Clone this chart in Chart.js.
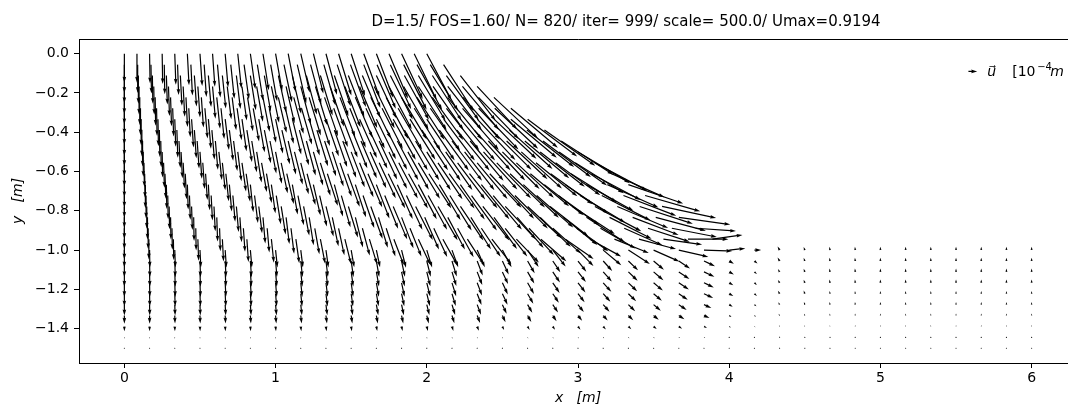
<!DOCTYPE html>
<html>
<head>
<meta charset="utf-8">
<script src="https://cdn.jsdelivr.net/npm/chart.js@4.4.1/dist/chart.umd.min.js"></script>
<style>
  html, body { margin: 0; padding: 0; background: #fff; overflow: hidden; }
</style>
</head>
<body>
<canvas id="chart0" width="1100" height="407"></canvas>
<script>
// ---- mesh: slope block (y = 0 .. -0.944), 25 nodes per row from x=0 to the slope face
var upperRowY = [0, -0.0556, -0.1111, -0.1667, -0.2222, -0.2778, -0.3333, -0.3889, -0.4444,
                 -0.5, -0.5556, -0.6111, -0.6667, -0.7222, -0.7778, -0.8333, -0.8889, -0.9444];
var upperRowFaceX = [2.0, 2.111, 2.222, 2.333, 2.444, 2.556, 2.667, 2.778, 2.889,
                     3.0, 3.111, 3.222, 3.333, 3.444, 3.556, 3.667, 3.778, 3.889];
var NODES_PER_UPPER_ROW = 25;

// ---- mesh: foundation block (y = -1 .. -1.5)
var lowerRowY = [-1.0, -1.0556, -1.1111, -1.1667, -1.2222, -1.2778, -1.3333, -1.3889, -1.4444, -1.5];
var lowerColX = [0, 0.1667, 0.3333, 0.5, 0.6667, 0.8333, 1, 1.1667, 1.3333, 1.5, 1.6667, 1.8333,
                 2, 2.1667, 2.3333, 2.5, 2.6667, 2.8333, 3, 3.1667, 3.3333, 3.5, 3.6667, 3.8333,
                 4, 4.1667, 4.3333, 4.5, 4.6667, 4.8333, 5, 5.1667, 5.3333, 5.5, 5.6667, 5.8333, 6];

// ---- displacement magnitude (1e-4 m) per node, slope block
var upperMag = [
  [.43,.43,.44,.45,.46,.47,.48,.49,.50,.52,.53,.55,.56,.58,.59,.61,.63,.65,.66,.68,.70,.72,.74,.76,.78],
  [.42,.42,.43,.44,.45,.46,.48,.49,.51,.52,.54,.55,.57,.59,.61,.63,.65,.67,.69,.71,.73,.75,.77,.80,.82],
  [.41,.42,.42,.43,.45,.46,.47,.49,.50,.52,.54,.56,.58,.60,.62,.64,.66,.68,.70,.73,.75,.78,.80,.82,.85],
  [.41,.42,.42,.44,.45,.46,.48,.49,.51,.53,.55,.56,.58,.60,.63,.65,.67,.69,.72,.74,.77,.79,.82,.84,.87],
  [.40,.41,.42,.43,.44,.45,.47,.49,.51,.52,.54,.56,.59,.61,.63,.65,.68,.70,.73,.75,.78,.81,.83,.86,.89],
  [.39,.40,.41,.42,.43,.45,.46,.48,.50,.52,.54,.56,.59,.61,.63,.66,.68,.71,.74,.77,.79,.82,.85,.88,.91],
  [.38,.39,.40,.41,.42,.44,.46,.48,.50,.52,.54,.56,.58,.61,.63,.66,.69,.71,.74,.77,.80,.83,.86,.89,.92],
  [.38,.39,.40,.41,.42,.44,.46,.48,.50,.52,.54,.56,.58,.61,.63,.66,.69,.71,.74,.77,.80,.83,.86,.89,.92],
  [.37,.38,.39,.40,.41,.43,.45,.47,.49,.51,.53,.55,.58,.60,.63,.66,.68,.71,.74,.77,.80,.83,.86,.89,.92],
  [.36,.37,.38,.39,.40,.42,.44,.46,.48,.50,.52,.54,.56,.59,.61,.64,.67,.69,.72,.75,.78,.81,.84,.87,.90],
  [.35,.36,.37,.38,.39,.41,.43,.44,.46,.48,.51,.53,.55,.58,.60,.62,.65,.68,.70,.73,.76,.79,.82,.85,.88],
  [.35,.36,.37,.38,.39,.41,.42,.44,.46,.48,.50,.52,.54,.57,.59,.61,.64,.66,.69,.72,.75,.77,.80,.83,.86],
  [.34,.35,.36,.37,.38,.40,.41,.43,.45,.47,.49,.51,.54,.56,.58,.61,.63,.66,.69,.72,.74,.77,.80,.83,.86],
  [.33,.34,.35,.36,.37,.39,.41,.43,.45,.47,.49,.51,.53,.56,.58,.61,.64,.66,.69,.72,.75,.78,.81,.84,.85],
  [.32,.33,.34,.35,.37,.38,.40,.42,.44,.46,.48,.51,.53,.56,.58,.61,.64,.67,.69,.72,.75,.78,.82,.83,.82],
  [.32,.33,.33,.35,.36,.37,.39,.40,.42,.44,.46,.47,.49,.52,.54,.56,.58,.60,.63,.65,.68,.70,.73,.77,.77],
  [.31,.31,.32,.33,.34,.35,.36,.38,.39,.41,.42,.44,.45,.47,.49,.51,.53,.54,.56,.58,.60,.62,.65,.68,.60],
  [.30,.30,.31,.32,.33,.34,.35,.36,.37,.38,.39,.41,.42,.44,.45,.47,.48,.50,.51,.53,.55,.57,.58,.60,.45]
];

// ---- displacement direction (deg, counter-clockwise from +x), slope block
var upperAng = [
  [-90,-90,-89,-89,-88,-87,-86,-86,-85,-84,-82,-81,-80,-79,-77,-76,-75,-73,-72,-70,-69,-67,-65,-64,-62],
  [-90,-90,-89,-89,-88,-87,-86,-85,-84,-82,-81,-80,-78,-77,-75,-74,-72,-70,-69,-67,-65,-63,-61,-59,-57],
  [-90,-90,-89,-88,-87,-86,-85,-84,-83,-81,-80,-78,-77,-75,-73,-71,-69,-67,-65,-63,-61,-59,-57,-54,-52],
  [-90,-90,-89,-88,-87,-86,-85,-83,-82,-80,-78,-77,-75,-73,-71,-69,-67,-64,-62,-60,-57,-55,-52,-50,-47],
  [-90,-90,-89,-88,-87,-86,-84,-83,-81,-79,-77,-75,-73,-71,-69,-67,-64,-62,-59,-57,-54,-51,-49,-46,-43],
  [-90,-90,-89,-88,-87,-85,-84,-82,-80,-79,-77,-74,-72,-70,-68,-65,-63,-60,-58,-55,-52,-49,-46,-43,-40],
  [-90,-90,-89,-88,-86,-85,-83,-82,-80,-78,-76,-74,-71,-69,-66,-64,-61,-58,-56,-53,-50,-47,-43,-40,-37],
  [-90,-90,-89,-88,-86,-85,-83,-81,-79,-77,-75,-73,-71,-68,-65,-63,-60,-57,-54,-51,-48,-45,-42,-38,-35],
  [-90,-90,-89,-87,-86,-85,-83,-81,-79,-77,-75,-72,-70,-67,-65,-62,-59,-56,-53,-50,-47,-43,-40,-37,-33],
  [-90,-90,-89,-87,-86,-84,-83,-81,-79,-76,-74,-72,-69,-66,-64,-61,-58,-55,-52,-48,-45,-42,-38,-35,-31],
  [-90,-89,-88,-87,-86,-84,-82,-80,-78,-76,-73,-71,-68,-65,-62,-59,-56,-53,-50,-46,-43,-39,-36,-32,-28],
  [-90,-89,-88,-87,-86,-84,-82,-80,-77,-75,-72,-70,-67,-64,-61,-57,-54,-51,-47,-44,-40,-36,-32,-28,-24],
  [-90,-90,-89,-88,-87,-85,-84,-82,-80,-77,-75,-72,-69,-66,-62,-59,-55,-51,-47,-43,-38,-34,-29,-24,-19],
  [-90,-90,-89,-88,-87,-85,-83,-81,-79,-77,-74,-71,-68,-65,-61,-58,-54,-50,-45,-41,-36,-31,-27,-21,-16],
  [-90,-90,-89,-88,-87,-85,-83,-81,-79,-76,-73,-70,-67,-63,-60,-56,-52,-47,-43,-38,-33,-28,-23,-18,-12],
  [-90,-90,-89,-89,-88,-86,-85,-83,-81,-78,-76,-73,-69,-66,-62,-58,-54,-49,-44,-39,-33,-27,-21,-15,-8],
  [-90,-90,-89,-89,-88,-86,-85,-83,-80,-78,-75,-72,-68,-65,-61,-56,-52,-47,-42,-36,-30,-24,-18,-11,-4],
  [-90,-90,-89,-88,-87,-86,-84,-82,-79,-76,-73,-69,-65,-61,-57,-52,-46,-41,-35,-29,-22,-15,-8,0,8]
];

// ---- foundation block magnitudes (1e-4 m), one row per lowerRowY
var lowerMag = [
  [.26,.26,.26,.26,.26,.26,.26,.26,.26,.26,.26,.27,.27,.27,.28,.29,.30,.31,.33,.35,.38,.42,.45,.42,.24,.10,.06,.05,.05,.05,.05,.05,.05,.05,.05,.05,.05],
  [.24,.24,.24,.24,.24,.24,.24,.24,.24,.24,.24,.24,.24,.24,.23,.22,.21,.20,.20,.20,.20,.20,.20,.18,.08,.06,.06,.05,.05,.05,.05,.05,.05,.05,.05,.05,.05],
  [.22,.22,.22,.22,.22,.22,.22,.22,.22,.22,.22,.22,.22,.22,.21,.20,.20,.19,.19,.19,.19,.19,.19,.17,.08,.05,.05,.05,.05,.05,.05,.05,.05,.05,.05,.05,.05],
  [.21,.21,.21,.21,.21,.21,.21,.21,.21,.21,.21,.21,.21,.21,.20,.19,.19,.18,.18,.18,.18,.18,.18,.16,.07,.05,.05,.05,.05,.05,.05,.05,.05,.05,.05,.05,.05],
  [.19,.19,.19,.19,.19,.19,.19,.19,.19,.19,.19,.19,.19,.19,.18,.18,.17,.16,.16,.16,.16,.16,.16,.15,.07,.05,.05,.05,.04,.04,.04,.04,.04,.04,.04,.04,.04],
  [.16,.16,.16,.16,.16,.16,.16,.16,.16,.16,.16,.16,.16,.16,.16,.15,.14,.14,.14,.14,.14,.14,.14,.12,.06,.04,.04,.04,.04,.04,.04,.04,.04,.04,.04,.04,.04],
  [.12,.12,.12,.12,.12,.12,.12,.12,.12,.12,.12,.12,.12,.12,.12,.11,.11,.10,.10,.10,.10,.10,.10,.09,.04,.03,.03,.03,.03,.03,.03,.03,.03,.03,.03,.03,.03],
  [.07,.07,.07,.07,.07,.07,.07,.07,.07,.07,.07,.07,.07,.07,.07,.06,.06,.06,.06,.06,.06,.06,.06,.05,.03,.02,.02,.02,.02,.02,.02,.02,.02,.02,.02,.02,.02],
  [.02,.02,.02,.02,.02,.02,.02,.02,.02,.02,.02,.02,.02,.02,.02,.02,.02,.02,.02,.02,.02,.02,.02,.02,.01,.01,.01,.01,.01,.01,.01,.01,.01,.01,.01,.01,.01],
  [0,0,0,0,0,0,0,0,0,0,0,0,0,0,0,0,0,0,0,0,0,0,0,0,0,0,0,0,0,0,0,0,0,0,0,0,0]
];
// directions (deg) along y = -1 and for the rows below it
var lowerAngTop = [-90,-89,-88,-87,-86,-85,-84,-83,-82,-80,-78,-76,-73,-70,-66,-62,-57,-52,-46,-40,-33,-24,-13,-2,6,0,
                   120,110,100,95,92,90,90,90,90,90,90];
var lowerAngBelow = [-90,-89,-88,-88,-87,-86,-85,-84,-83,-82,-80,-78,-76,-73,-69,-65,-60,-56,-52,-48,-44,-40,-34,-25,-30,-40,
                     120,110,100,95,92,90,90,90,90,90,90];

var xTickValues = [0, 1, 2, 3, 4, 5, 6];
var yTickValues = [0, -0.2, -0.4, -0.6, -0.8, -1.0, -1.2, -1.4];

var TITLE = 'D=1.5/ FOS=1.60/ N= 820/ iter= 999/ scale= 500.0/ Umax=0.9194';
var KEY_U = 0.13;

// quiver look (matplotlib defaults: headwidth 3, headlength 5, headaxislength 4.5)
var SHAFT_W = 1.2;       // px
var PX_PER_UNIT = 67.4;  // arrow px per 1e-4 m

function buildNodes() {
    var pts = [];
    upperRowY.forEach(function (y, j) {
        for (var i = 0; i < NODES_PER_UPPER_ROW; i++) {
            pts.push({x: i * upperRowFaceX[j] / (NODES_PER_UPPER_ROW - 1), y: y,
                      mag: upperMag[j][i], ang: upperAng[j][i]});
        }
    });
    lowerRowY.forEach(function (y, k) {
        lowerColX.forEach(function (x, c) {
            pts.push({x: x, y: y, mag: lowerMag[k][c],
                      ang: k === 0 ? lowerAngTop[c] : lowerAngBelow[c]});
        });
    });
    return pts;
}

function drawArrow(ctx, px, py, lenPx, angDeg) {
    var w = SHAFT_W;
    var L = lenPx / w;
    var pts;
    if (L < 1) {
        pts = [];
        for (var k = 0; k < 6; k++) pts.push([0.5 * Math.cos(k * Math.PI / 3), 0.5 * Math.sin(k * Math.PI / 3)]);
    } else if (L < 5) {
        var f = L / 5;
        pts = [[0, .5], [.5, .5], [0, 1.5], [5, 0], [0, -1.5], [.5, -.5], [0, -.5]].map(function (p) {
            return [p[0] * f, p[1] * f];
        });
    } else {
        pts = [[0, .5], [L - 4.5, .5], [L - 5, 1.5], [L, 0], [L - 5, -1.5], [L - 4.5, -.5], [0, -.5]];
    }
    var a = -angDeg * Math.PI / 180;
    var c = Math.cos(a), s = Math.sin(a);
    ctx.beginPath();
    pts.forEach(function (p, n) {
        var X = px + (p[0] * c - p[1] * s) * w;
        var Y = py + (p[0] * s + p[1] * c) * w;
        if (n) ctx.lineTo(X, Y); else ctx.moveTo(X, Y);
    });
    ctx.closePath();
    ctx.fill();
}

var quiverPlugin = {
    id: 'quiver',
    beforeDraw: function (chart) {
        var ctx = chart.ctx;
        ctx.save();
        ctx.fillStyle = '#fff';
        ctx.fillRect(0, 0, chart.width, chart.height);
        ctx.restore();
    },
    afterDatasetsDraw: function (chart) {
        var ctx = chart.ctx, xs = chart.scales.x, ys = chart.scales.y, area = chart.chartArea;
        ctx.save();
        ctx.fillStyle = '#000';
        chart.data.datasets[0].data.forEach(function (p) {
            drawArrow(ctx, xs.getPixelForValue(p.x), ys.getPixelForValue(p.y), p.mag * PX_PER_UNIT, p.ang);
        });

        // top spine
        ctx.strokeStyle = '#000';
        ctx.lineWidth = 1;
        ctx.beginPath();
        ctx.moveTo(area.left, Math.round(area.top) + 0.5);
        ctx.lineTo(area.right + 0.5, Math.round(area.top) + 0.5);
        ctx.stroke();

        // title
        ctx.fillStyle = '#000';
        ctx.font = '15px "DejaVu Sans"';
        ctx.textAlign = 'center';
        ctx.textBaseline = 'alphabetic';
        ctx.fillText(TITLE, 626, 26);

        // quiver key at axes (0.9, 0.9), pivot at tip
        var kx = area.left + 0.9 * (area.right - area.left);
        var ky = area.bottom - 0.9 * (area.bottom - area.top);
        var kl = KEY_U * PX_PER_UNIT;
        drawArrow(ctx, kx - kl, ky, kl, 0);
        ctx.textAlign = 'left';
        ctx.font = 'italic 14px "DejaVu Sans"';
        ctx.fillText('u\u20D7', kx + 10, ky + 5);
        ctx.font = '14px "DejaVu Sans"';
        ctx.fillText('[10', kx + 35, ky + 5);
        ctx.font = '10px "DejaVu Sans"';
        ctx.fillText('\u22124', kx + 60, ky - 1);
        ctx.font = 'italic 14px "DejaVu Sans"';
        ctx.fillText('m', kx + 73, ky + 5);
        ctx.restore();
    }
};

function fmtY(v) {
    var t = Math.abs(v).toFixed(1);
    return v < -1e-9 ? '\u2212' + t : t;
}

Chart.defaults.font.family = '"DejaVu Sans"';
Chart.defaults.color = '#000';

var ctx = document.getElementById('chart0').getContext('2d');
var chart = new Chart(ctx, {
    type: 'scatter',
    data: {
        datasets: [{
            data: buildNodes(),
            pointRadius: 0,
            pointHoverRadius: 0,
            showLine: false
        }]
    },
    options: {
        responsive: false,
        devicePixelRatio: 1,
        animation: false,
        events: [],
        layout: {padding: {top: 39, right: 23, left: 0, bottom: 0}},
        plugins: {legend: {display: false}, tooltip: {enabled: false}},
        scales: {
            x: {
                type: 'linear',
                min: -0.3,
                max: 6.3,
                afterBuildTicks: function (s) { s.ticks = xTickValues.map(function (v) { return {value: v}; }); },
                afterFit: function (s) { s.height = 44; },
                grid: {display: true, drawOnChartArea: false, drawTicks: true, tickLength: 5, color: '#000'},
                border: {display: true, color: '#000', width: 1},
                ticks: {font: {size: 14}, padding: 2, maxRotation: 0, autoSkip: false,
                        callback: function (v) { return String(v); }},
                title: {display: true, text: 'x   [m]', font: {size: 14, style: 'italic'}, padding: {top: 0, bottom: 0}}
            },
            y: {
                type: 'linear',
                min: -1.575,
                max: 0.075,
                afterBuildTicks: function (s) { s.ticks = yTickValues.map(function (v) { return {value: v}; }); },
                afterFit: function (s) { s.width = 79; },
                grid: {display: true, drawOnChartArea: false, drawTicks: true, tickLength: 5, color: '#000'},
                border: {display: true, color: '#000', width: 1},
                ticks: {font: {size: 14}, padding: 5, autoSkip: false, callback: fmtY},
                title: {display: true, text: 'y   [m]', font: {size: 14, style: 'italic'}, padding: {top: 10, bottom: 0}}
            }
        }
    },
    plugins: [quiverPlugin]
});
</script>
</body>
</html>
